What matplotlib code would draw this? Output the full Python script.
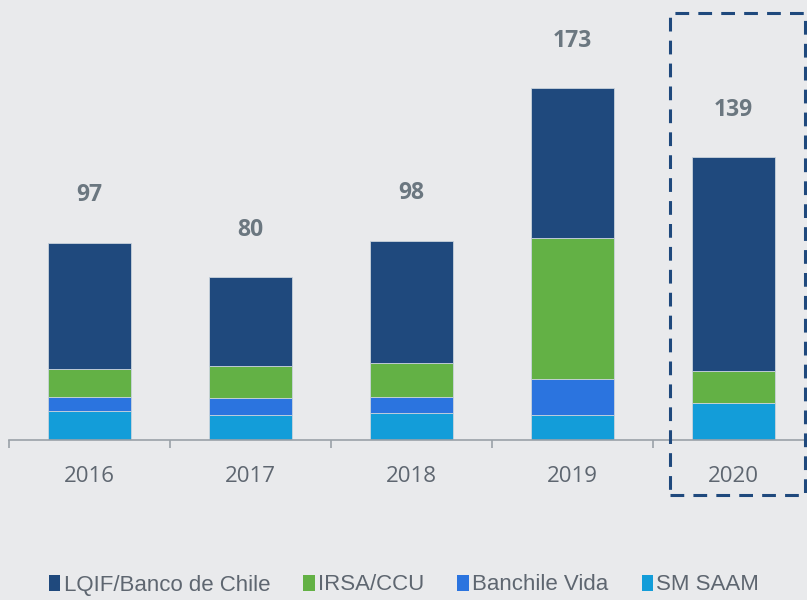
import matplotlib
matplotlib.use("Agg")
import matplotlib.pyplot as plt
from matplotlib.patches import Rectangle, Patch
import numpy as np

years = ["2016", "2017", "2018", "2019", "2020"]
sm_saam = [14.3, 12.3, 13.3, 12.3, 18.2]
banchile_vida = [6.9, 8.4, 7.9, 17.7, 0.0]
irsa_ccu = [13.8, 15.7, 16.7, 69.3, 15.7]
lqif = [62.0, 43.6, 60.1, 73.7, 105.1]
totals = [97, 80, 98, 173, 139]

series = [
    ("LQIF/Banco de Chile", lqif, "#1F497D"),
    ("IRSA/CCU", irsa_ccu, "#63B145"),
    ("Banchile Vida", banchile_vida, "#2B74DF"),
    ("SM SAAM", sm_saam, "#139DD9"),
]

bg = "#E9EAEC"
fig = plt.figure(figsize=(8.07, 6.0), dpi=100, facecolor=bg)
ax = fig.add_axes([9 / 807, 160 / 600, 805 / 807, 407 / 600])
ax.set_facecolor(bg)

x = np.arange(len(years))
bottom = np.zeros(len(years))
stack_order = [series[3], series[2], series[1], series[0]]
for name, vals, col in stack_order:
    v = np.array(vals)
    ax.bar(x, v, 0.51, bottom=bottom, color=col, edgecolor="#C9D3DC", linewidth=0.6, label=name)
    bottom += v

for xi, t, top in zip(x, totals, bottom):
    ax.annotate(str(t), (xi, top), xytext=(0, 34), textcoords="offset points",
                ha="center", va="center", fontsize=16.5, fontweight="bold",
                color="#6B7780", family="Open Sans")

ax.set_xlim(-0.5, len(years) - 0.5)
ax.set_ylim(0, 200)
for s in ["top", "right", "left"]:
    ax.spines[s].set_visible(False)
ax.spines["bottom"].set_color("#9AA1A8")
ax.spines["bottom"].set_linewidth(1.2)
ax.set_yticks([])
ax.set_xticks(x)
ax.set_xticklabels(years, fontsize=16, color="#5E6670", family="Open Sans")
ax.set_xticks(np.arange(-0.5, len(years), 1.0), minor=True)
ax.tick_params(axis="x", which="major", length=0, pad=19)
ax.tick_params(axis="x", which="minor", length=6, color="#9AA1A8", width=1.2, direction="out")

# dashed highlight box around 2020
fig.patches.append(Rectangle((670 / 807, 105 / 600), 135 / 807, 482 / 600,
                             transform=fig.transFigure, fill=False,
                             edgecolor="#1F497D", linewidth=2.2,
                             linestyle=(0, (4.5, 3))))

handles = [Patch(facecolor=c, edgecolor="none", label=n) for n, _, c in series]
leg = fig.legend(handles=handles, loc="center", bbox_to_anchor=(404 / 807, 15 / 600), ncol=4,
                 frameon=False, handlelength=0.5, handleheight=0.75,
                 handletextpad=0.15, columnspacing=1.5,
                 prop={"family": "Liberation Sans", "size": 16})
for t in leg.get_texts():
    t.set_color("#5E6670")

fig.savefig("out.png", dpi=100, facecolor=bg)
